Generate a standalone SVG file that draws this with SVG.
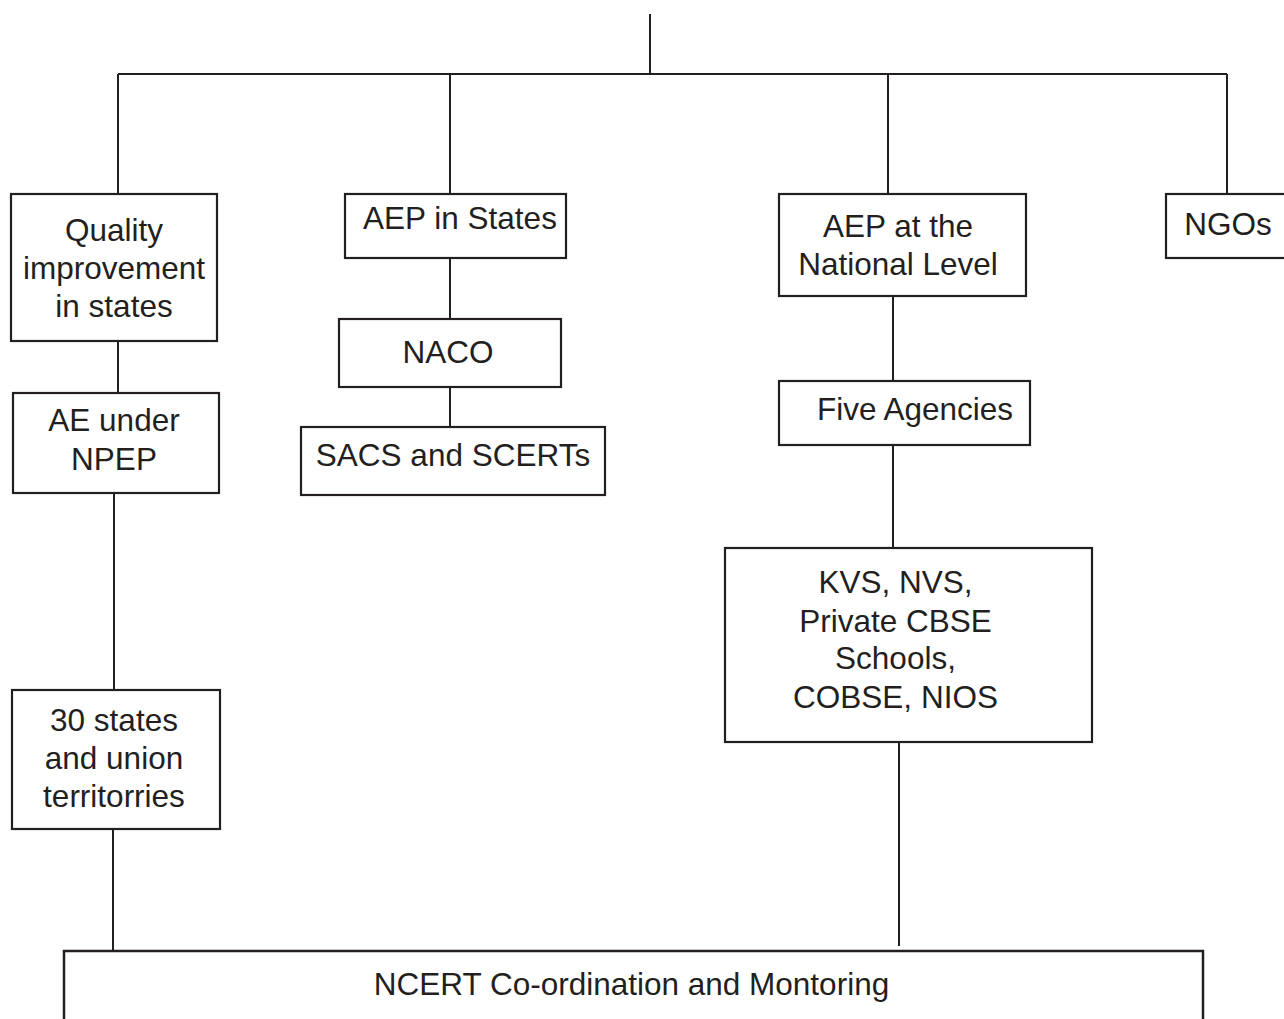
<svg xmlns="http://www.w3.org/2000/svg" width="1284" height="1019" viewBox="0 0 1284 1019">
<style>
.box{fill:#fff;stroke:#231f20;stroke-width:2.2}
.ln{fill:none;stroke:#231f20;stroke-width:2}
text{font-family:"Liberation Sans",Arial,sans-serif;font-size:31.5px;fill:#231f20;text-anchor:middle}
</style>
<rect width="1284" height="1019" fill="#fff"/>
<g id="connectors">
<path class="ln" d="M650,14V74M118,74H1227M118,74V194M450,74V194M888,74V194M1227,74V194"/>
<path class="ln" d="M118,341V393M114,493V690M113,829V951"/>
<path class="ln" d="M450,258V319M450,388V427"/>
<path class="ln" d="M893,296V381M893,445V548M899,742V946"/>
</g>
<g id="n-quality"><rect class="box" x="11" y="194" width="206" height="147"/>
<text x="114" y="241">Quality</text><text x="114" y="279">improvement</text><text x="114" y="317">in states</text></g>
<g id="n-aep-states"><rect class="box" x="345" y="194" width="221" height="64"/>
<text x="460" y="229">AEP in States</text></g>
<g id="n-naco"><rect class="box" x="339" y="319" width="222" height="68"/>
<text x="448" y="363">NACO</text></g>
<g id="n-sacs"><rect class="box" x="301" y="427" width="304" height="68"/>
<text x="453" y="466">SACS and SCERTs</text></g>
<g id="n-ae-npep"><rect class="box" x="13" y="393" width="206" height="100"/>
<text x="114" y="431">AE under</text><text x="114" y="470">NPEP</text></g>
<g id="n-30states"><rect class="box" x="12" y="690" width="208" height="139"/>
<text x="114" y="731">30 states</text><text x="114" y="769">and union</text><text x="114" y="807">territorries</text></g>
<g id="n-aep-national"><rect class="box" x="779" y="194" width="247" height="102"/>
<text x="898" y="237">AEP at the</text><text x="898" y="275">National Level</text></g>
<g id="n-ngos"><rect class="box" x="1166" y="194" width="130" height="64"/>
<text x="1228" y="235">NGOs</text></g>
<g id="n-five"><rect class="box" x="779" y="381" width="251" height="64"/>
<text x="915" y="420">Five Agencies</text></g>
<g id="n-kvs"><rect class="box" x="725" y="548" width="367" height="194"/>
<text x="895.5" y="593">KVS, NVS,</text><text x="895.5" y="632">Private CBSE</text><text x="895.5" y="669">Schools,</text><text x="895.5" y="708">COBSE, NIOS</text></g>
<g id="n-ncert"><rect class="box" x="64" y="951" width="1139" height="90" style="stroke-width:2.5"/>
<text x="631.5" y="995">NCERT Co-ordination and Montoring</text></g>
</svg>
